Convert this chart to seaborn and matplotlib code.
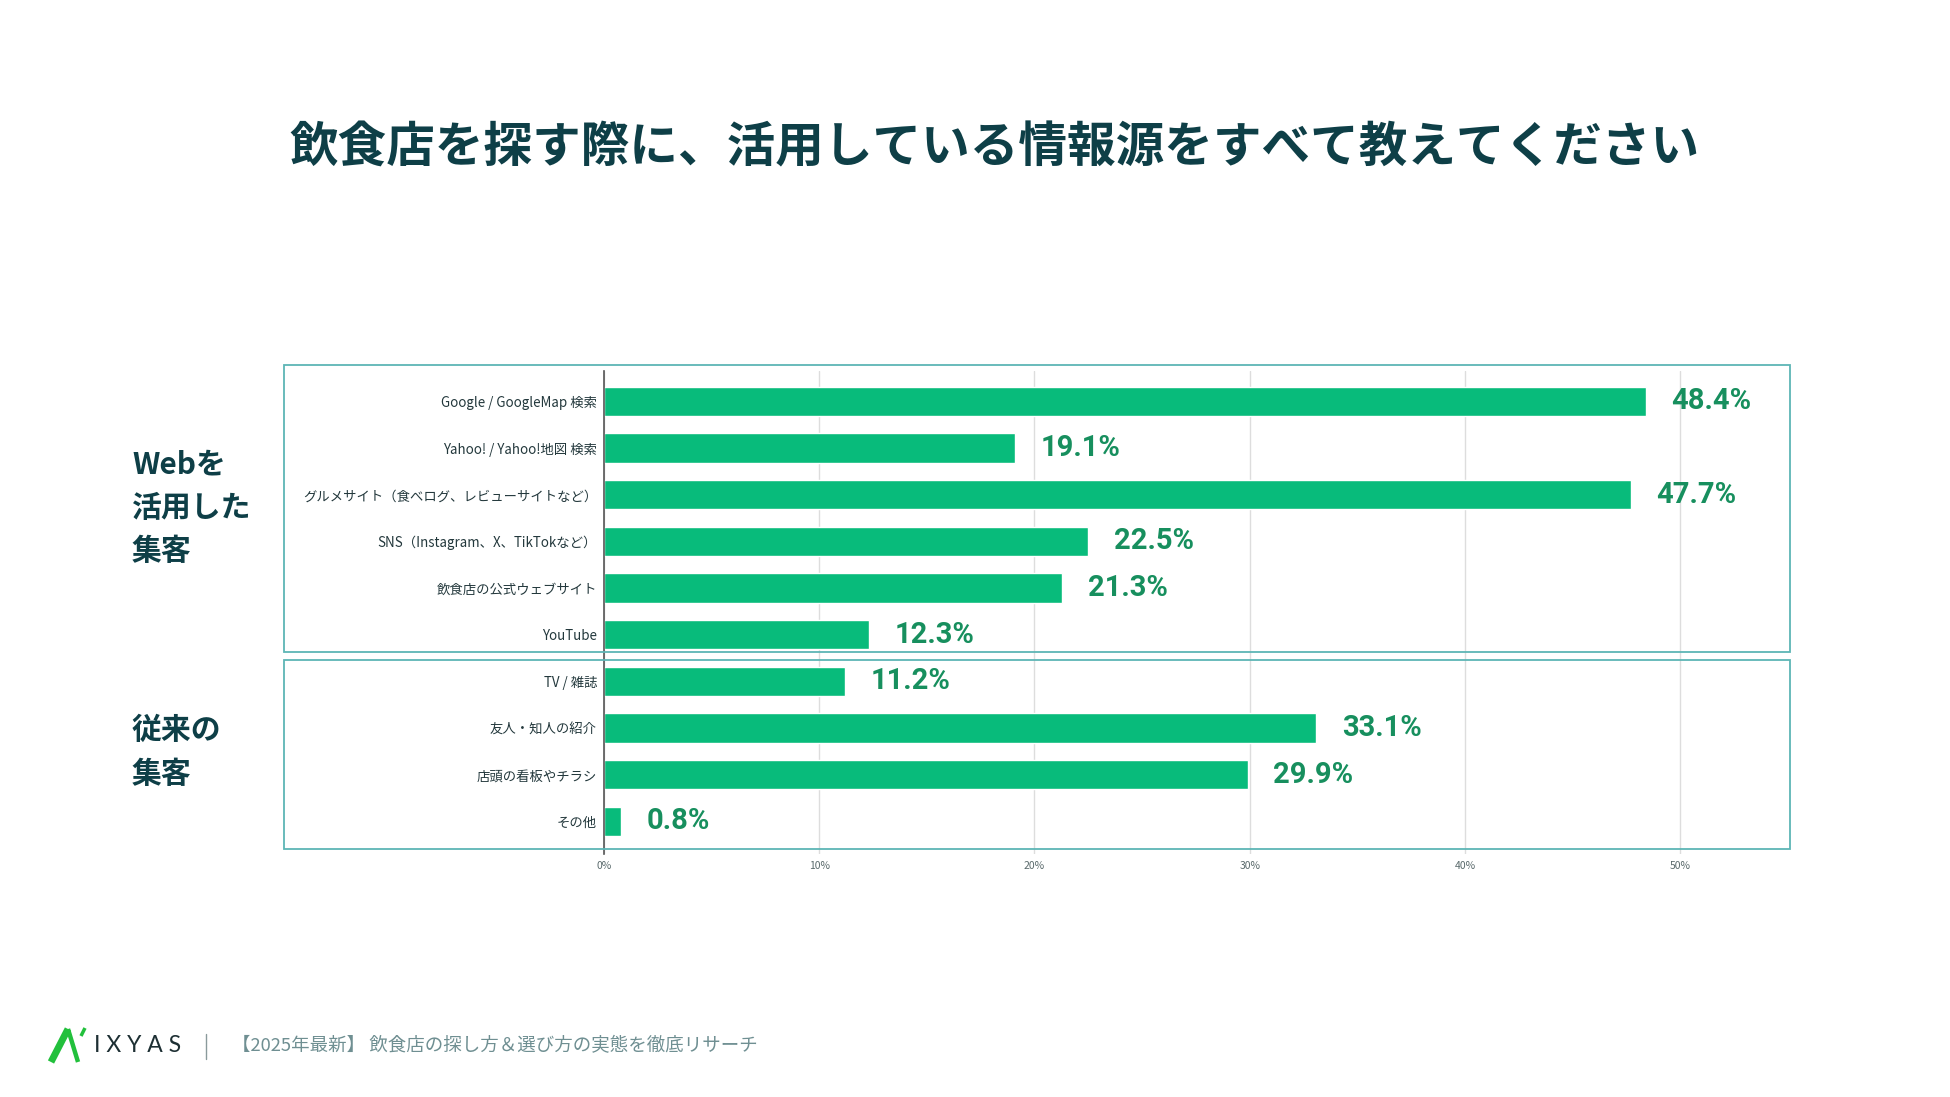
import pandas as pd
import seaborn as sns
import matplotlib.pyplot as plt
from matplotlib.patches import Rectangle
from matplotlib.lines import Line2D

# データ
categories = [
    'Google / GoogleMap 検索',
    'Yahoo! / Yahoo!地図 検索',
    'グルメサイト（食べログ、レビューサイトなど）',
    'SNS（Instagram、X、TikTokなど）',
    '飲食店の公式ウェブサイト',
    'YouTube',
    'TV / 雑誌',
    '友人・知人の紹介',
    '店頭の看板やチラシ',
    'その他',
]
values = [48.4, 19.1, 47.7, 22.5, 21.3, 12.3, 11.2, 33.1, 29.9, 0.8]
group_labels = ['Webを\n活用した\n集客', '従来の\n集客']
x_ticks = [0, 10, 20, 30, 40, 50]

title = '飲食店を探す際に、活用している情報源をすべて教えてください'
footer = '【2025年最新】 飲食店の探し方＆選び方の実態を徹底リサーチ'

df = pd.DataFrame({'category': categories, 'value': values})

sns.set_theme(style='white')
plt.rcParams['font.family'] = ['Noto Sans CJK JP', 'DejaVu Sans']

W, H = 1950, 1097
fig = plt.figure(figsize=(19.5, 10.97), dpi=100)
fig.patch.set_facecolor('white')

def fx(px):
    return px / W

def fy(py):
    return 1 - py / H

bar_color = '#08bb7b'
text_dark = '#0e3f47'
box_color = '#5db5b5'

# 枠線（Web / 従来）
fig.add_artist(Rectangle((fx(284), fy(652)), fx(1790) - fx(284), fy(365) - fy(652),
                         transform=fig.transFigure, fill=False, edgecolor=box_color, linewidth=1.3))
fig.add_artist(Rectangle((fx(284), fy(849)), fx(1790) - fx(284), fy(660) - fy(849),
                         transform=fig.transFigure, fill=False, edgecolor=box_color, linewidth=1.3))

ax = fig.add_axes([fx(604), fy(854), fx(1790) - fx(604), fy(371) - fy(854)])
ax.patch.set_alpha(0)
sns.barplot(data=df, x='value', y='category', orient='h', color=bar_color,
            width=0.63, saturation=1, ax=ax)

ax.set_xlim(0, 55.1)
ax.set_ylim(9.7, -0.65)
ax.set_xticks(x_ticks)
ax.set_xticklabels([f'{t}%' for t in x_ticks], fontsize=7.5, color='#5a6a6c')
ax.tick_params(axis='x', length=0, pad=5)
ax.tick_params(axis='y', length=0, pad=5, labelsize=9.6, labelcolor='#23383c')
ax.set_xlabel('')
ax.set_ylabel('')
ax.grid(axis='x', color='#dddddd', linewidth=1)
ax.set_axisbelow(True)
for side in ['top', 'right', 'bottom']:
    ax.spines[side].set_visible(False)
ax.spines['left'].set_color('#555555')
ax.spines['left'].set_linewidth(1.2)

for i, v in enumerate(values):
    ax.text(v + 1.2, i, f'{v}%', va='center', ha='left', fontsize=21,
            fontweight='bold', color='#178f5e', family=['Roboto', 'DejaVu Sans'])

# タイトル
fig.text(fx(994), fy(148), title, ha='center', va='center', fontsize=35,
         fontweight='bold', color=text_dark)

# グループラベル
fig.text(fx(132), fy(508), group_labels[0], ha='left', va='center', fontsize=21.5,
         fontweight='bold', color=text_dark, linespacing=1.55)
fig.text(fx(132), fy(752), group_labels[1], ha='left', va='center', fontsize=21.5,
         fontweight='bold', color=text_dark, linespacing=1.55)

# フッター（ロゴ）
logo_green = '#22c03c'
fig.add_artist(Line2D([fx(51), fx(68)], [fy(1062), fy(1029)], transform=fig.transFigure,
                      color=logo_green, linewidth=5, solid_capstyle='butt'))
fig.add_artist(Line2D([fx(68), fx(78)], [fy(1029), fy(1062)], transform=fig.transFigure,
                      color=logo_green, linewidth=3.2, solid_capstyle='butt'))
fig.add_artist(Line2D([fx(81), fx(85)], [fy(1036), fy(1028)], transform=fig.transFigure,
                      color=logo_green, linewidth=2.5, solid_capstyle='butt'))
fig.text(fx(94), fy(1046), 'I X Y A S', ha='left', va='center', fontsize=16.5,
         color='#1d2f33', family=['Lato', 'DejaVu Sans'])
fig.add_artist(Line2D([fx(206), fx(206)], [fy(1034), fy(1059)], transform=fig.transFigure,
                      color='#8a9a9c', linewidth=1))
fig.text(fx(232), fy(1046), footer, ha='left', va='center', fontsize=13.3, color='#6f8f92')

fig.savefig('out.png', dpi=100, facecolor='white')
